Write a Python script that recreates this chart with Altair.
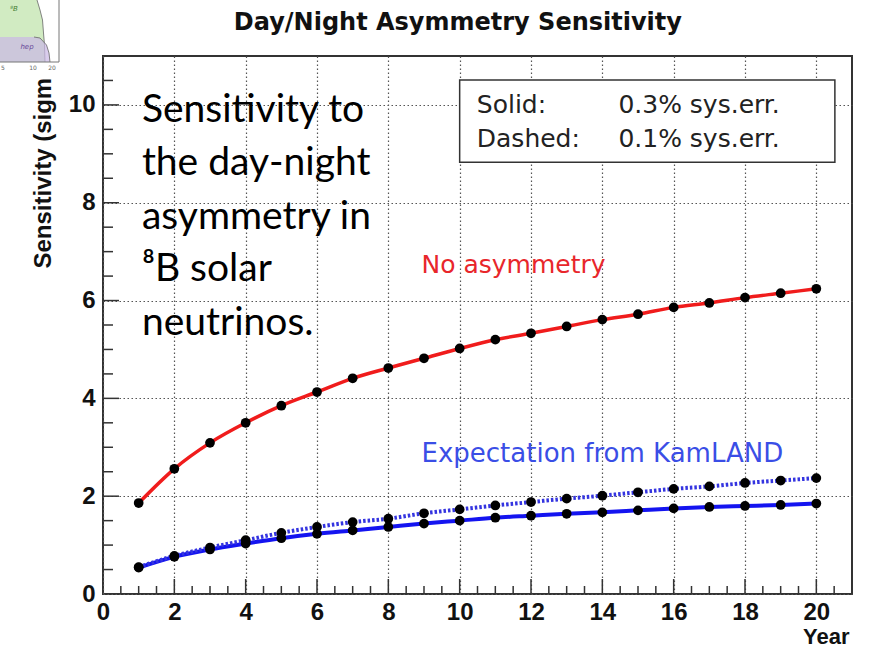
import altair as alt
import pandas as pd

# Day/night asymmetry sensitivity (sigma) versus running time in years
years = list(range(1, 21))
no_asymmetry = [1.86, 2.56, 3.09, 3.50, 3.85, 4.13, 4.41, 4.62, 4.82, 5.02,
                5.20, 5.33, 5.47, 5.61, 5.72, 5.86, 5.95, 6.06, 6.15, 6.24]
kamland_sys03 = [0.54, 0.76, 0.91, 1.03, 1.14, 1.23, 1.30, 1.37, 1.44, 1.50,
                 1.56, 1.60, 1.64, 1.67, 1.71, 1.75, 1.78, 1.80, 1.82, 1.85]
kamland_sys01 = [0.55, 0.78, 0.95, 1.10, 1.25, 1.37, 1.47, 1.54, 1.65, 1.73,
                 1.81, 1.88, 1.95, 2.01, 2.08, 2.15, 2.20, 2.27, 2.32, 2.37]

x_labels = [0, 2, 4, 6, 8, 10, 12, 14, 16, 18, 20]
y_labels = [0, 2, 4, 6, 8, 10]
x_major_ticks = [2, 4, 6, 8, 10, 12, 14, 16, 18, 20]
x_minor_ticks = [i / 2 for i in range(1, 42) if i % 4 != 0]
y_major_ticks = [2, 4, 6, 8, 10]
y_minor_ticks = [i / 2 for i in range(1, 22) if i % 4 != 0]

chart_title = "Day/Night Asymmetry Sensitivity"
legend_lines = ["Solid:", "Dashed:"]
legend_values = ["0.3% sys.err.", "0.1% sys.err."]
note_lines = ["Sensitivity to", "the day-night", "asymmetry in", "\u2078B solar", "neutrinos."]

# small spectrum thumbnail in the upper-left corner (its own pixel-like units)
b8_y = [0, 10, 20, 33, 45, 62]
b8_x = [37, 40, 42.5, 43.5, 44.5, 45]
hep_y = [37, 38, 45, 53, 62]
hep_x = [34, 40, 46.5, 49, 50]
thumb_ticks = ["5", "10", "20"]
thumb_tick_x = [3, 33, 52]

W, H = 749, 538
AXIS_FONT = "Liberation Sans"
TEXT_FONT = "DejaVu Sans"

xs = alt.Scale(domain=[0, 21], nice=False, zero=False)
ys = alt.Scale(domain=[0, 11], nice=False, zero=False)

x_axis = alt.Axis(
    values=x_labels, grid=True, gridDash=[1.5, 2.5], gridColor="#555", gridWidth=1.2,
    ticks=False, domain=False, labelFont=AXIS_FONT, labelFontWeight="bold",
    labelFontSize=24, labelColor="#111", labelPadding=6, labelOverlap=False,
    labelFlush=False, title="Year", titleFont=AXIS_FONT, titleFontWeight="bold",
    titleFontSize=22, titleColor="#111", titleX=746, titleY=49,
    titleAlign="right", titleBaseline="alphabetic",
)
y_axis = alt.Axis(
    values=y_labels, grid=True, gridDash=[1.5, 2.5], gridColor="#555", gridWidth=1.2,
    ticks=False, domain=False, labelFont=AXIS_FONT, labelFontWeight="bold",
    labelFontSize=24, labelColor="#111", labelPadding=8, labelOverlap=False,
    labelFlush=False, title="Sensitivity (sigma)", titleFont=AXIS_FONT,
    titleFontWeight="bold", titleFontSize=24, titleColor="#111", titleAngle=270,
    titleX=-53, titleY=0, titleAlign="right", titleBaseline="alphabetic",
)


def X(field="year"):
    return alt.X(f"{field}:Q", scale=xs, axis=x_axis)


def Y(field="sens"):
    return alt.Y(f"{field}:Q", scale=ys, axis=y_axis)


def series(values):
    return pd.DataFrame({"year": years, "sens": values})


red_line = alt.Chart(series(no_asymmetry)).mark_line(
    color="#f01c1c", strokeWidth=3.5, interpolate="monotone").encode(x=X(), y=Y())
blue_solid = alt.Chart(series(kamland_sys03)).mark_line(
    color="#1414f0", strokeWidth=4, interpolate="monotone").encode(x=X(), y=Y())
blue_dotted = alt.Chart(series(kamland_sys01)).mark_line(
    color="#3434e0", strokeWidth=4, strokeDash=[2.5, 2], interpolate="monotone").encode(x=X(), y=Y())

all_points = pd.concat([series(no_asymmetry), series(kamland_sys03), series(kamland_sys01)])
dots = alt.Chart(all_points).mark_circle(size=95, color="black", opacity=1).encode(x=X(), y=Y())

# inward ticks on the bottom and left frame
tick_style = dict(color="#333", strokeWidth=1.5)
xt_major = alt.Chart(pd.DataFrame({"year": x_major_ticks})).mark_rule(**tick_style).encode(
    x=X(), y=alt.value(H), y2=alt.value(H - 15))
xt_minor = alt.Chart(pd.DataFrame({"year": x_minor_ticks})).mark_rule(**tick_style).encode(
    x=X(), y=alt.value(H), y2=alt.value(H - 8))
yt_major = alt.Chart(pd.DataFrame({"sens": y_major_ticks})).mark_rule(**tick_style).encode(
    y=Y(), x=alt.value(0), x2=alt.value(16))
yt_minor = alt.Chart(pd.DataFrame({"sens": y_minor_ticks})).mark_rule(**tick_style).encode(
    y=Y(), x=alt.value(0), x2=alt.value(10))

# legend box
box = alt.Chart(pd.DataFrame({"year": [10.0], "year2": [20.52], "sens": [10.51], "sens2": [8.83]})).mark_rect(
    fill="white", stroke="#333", strokeWidth=1.5).encode(x=X(), x2="year2", y=Y(), y2="sens2")
legend_df = pd.DataFrame({
    "year": [10.48, 10.48, 14.45, 14.45],
    "sens": [9.83, 9.13, 9.83, 9.13],
    "label": legend_lines + legend_values,
})
legend_text = alt.Chart(legend_df).mark_text(
    align="left", baseline="alphabetic", font=TEXT_FONT, fontSize=25, color="#222").encode(
    x=X(), y=Y(), text="label:N")

red_note = alt.Chart(pd.DataFrame({"year": [8.93], "sens": [6.57], "label": ["No asymmetry"]})).mark_text(
    align="left", baseline="alphabetic", font=TEXT_FONT, fontSize=25, color="#e8262b").encode(
    x=X(), y=Y(), text="label:N")
blue_note = alt.Chart(pd.DataFrame({"year": [8.93], "sens": [2.69], "label": ["Expectation from KamLAND"]})).mark_text(
    align="left", baseline="alphabetic", font=TEXT_FONT, fontSize=26, color="#3a4ee6").encode(
    x=X(), y=Y(), text="label:N")

note_df = pd.DataFrame({"year": [1.09] * 5, "sens": [9.65, 8.57, 7.47, 6.39, 5.30], "label": note_lines})
big_note = alt.Chart(note_df).mark_text(
    align="left", baseline="alphabetic", font="Lato", fontSize=39, color="black").encode(
    x=X(), y=Y(), text="label:N")

# chart heading, placed above the frame
heading = alt.Chart(pd.DataFrame({"year": [9.95], "sens": [11.53], "label": [chart_title]})).mark_text(
    align="center", baseline="alphabetic", font=TEXT_FONT, fontWeight="bold", fontSize=24,
    color="#111").encode(x=X(), y=Y(), text="label:N")

main = alt.layer(red_line, blue_solid, blue_dotted, dots, xt_major, xt_minor, yt_major, yt_minor,
                 box, legend_text, red_note, blue_note, big_note, heading)

# thumbnail of the solar neutrino spectrum
txs = alt.Scale(domain=[0, 62], range=[-103, -41], nice=False, zero=False)
tys = alt.Scale(domain=[0, 77], range=[-56, 21], nice=False, zero=False)
thumb_bg = alt.Chart(pd.DataFrame({"a": [0], "b": [62], "c": [0], "d": [77]})).mark_rect(fill="white").encode(
    x=alt.X("a:Q", scale=txs, axis=None), x2="b", y=alt.Y("c:Q", scale=tys, axis=None), y2="d")
b8_area = alt.Chart(pd.DataFrame({"ty": b8_y, "tx": b8_x, "t0": [0] * len(b8_y)})).mark_area(
    orient="horizontal", color="#bde3a8", line={"color": "#666", "strokeWidth": 0.8}).encode(
    y=alt.Y("ty:Q", scale=tys, axis=None), x=alt.X("tx:Q", scale=txs, axis=None), x2="t0")
hep_area = alt.Chart(pd.DataFrame({"ty": hep_y, "tx": hep_x, "t0": [0] * len(hep_y)})).mark_area(
    orient="horizontal", color="#cbb8e6", line={"color": "#666", "strokeWidth": 0.8}).encode(
    y=alt.Y("ty:Q", scale=tys, axis=None), x=alt.X("tx:Q", scale=txs, axis=None), x2="t0")
thumb_frame = alt.Chart(pd.DataFrame({"a": [59, 0], "b": [59, 59], "c": [0, 62], "d": [62, 62]})).mark_rule(
    color="#777", strokeWidth=1).encode(
    x=alt.X("a:Q", scale=txs, axis=None), x2="b", y=alt.Y("c:Q", scale=tys, axis=None), y2="d")
thumb_labels = alt.Chart(pd.DataFrame({"tx": thumb_tick_x, "ty": [68] * 3, "label": thumb_ticks})).mark_text(
    fontSize=6, color="#666", font=TEXT_FONT).encode(
    x=alt.X("tx:Q", scale=txs, axis=None), y=alt.Y("ty:Q", scale=tys, axis=None), text="label:N")
thumb_names = alt.Chart(pd.DataFrame({"tx": [14, 27], "ty": [9, 47], "label": ["\u2078B", "hep"],
                                      "c": ["#3c7a2c", "#6a4a9a"]})).mark_text(
    fontSize=7, fontStyle="italic", font=TEXT_FONT).encode(
    x=alt.X("tx:Q", scale=txs, axis=None), y=alt.Y("ty:Q", scale=tys, axis=None), text="label:N",
    color=alt.Color("c:N", scale=None))
thumb = alt.layer(thumb_bg, b8_area, hep_area, thumb_frame, thumb_labels, thumb_names)

chart = alt.layer(main, thumb).resolve_scale(x="independent", y="independent").properties(
    width=W, height=H,
    autosize=alt.AutoSizeParams(type="none"),
    padding={"left": 103, "top": 56, "right": 20, "bottom": 55},
    background="white",
).configure_view(stroke="#333", strokeWidth=2)

chart.save("out.html", embed_options={"renderer": "svg", "actions": False})
